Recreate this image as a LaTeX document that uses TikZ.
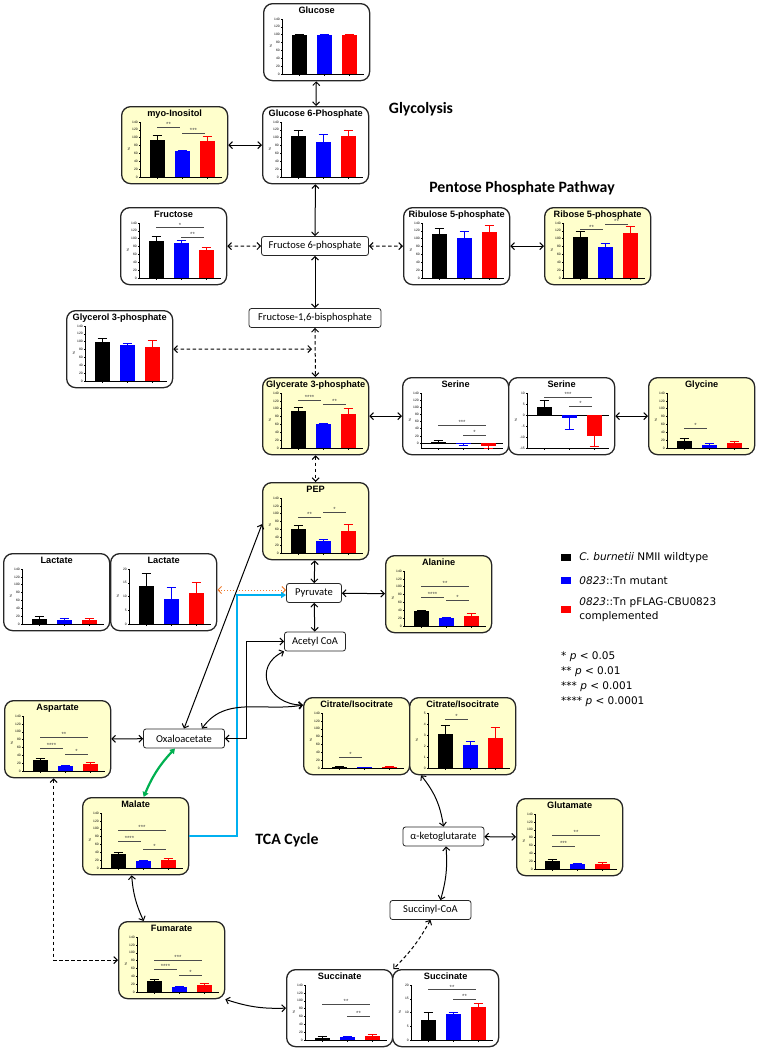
\documentclass[tikz,border=0pt]{standalone}
\usepackage{fontspec}
\setmainfont{Carlito}
\newfontfamily\chartfont{Liberation Sans}
\newfontfamily\keyfont{DejaVu Sans}
\usetikzlibrary{arrows.meta, positioning}

\definecolor{bar1}{RGB}{0,0,0}
\definecolor{bar2}{RGB}{0,0,255}
\definecolor{bar3}{RGB}{255,0,0}
\definecolor{panelyellow}{RGB}{255,255,204}
\definecolor{tcablue}{RGB}{0,176,240}
\definecolor{tcagreen}{RGB}{0,176,80}
\definecolor{lactorange}{RGB}{237,125,49}

% #1 panel, #2 ymin, #3 ymax, #4 ticks, #5 bars value/error, #6 significance from/to/height/stars
\newcommand{\barchart}[6]{%
  \pgfmathsetmacro\chscale{55/((#3)-(#2))}%
  \pgfmathsetmacro\chtick{2/\chscale}%
  \edef\ticklist{#4}%
  \begin{scope}[shift={(#1.north west)}, shift={(19,-71)}, yscale=\chscale, shift={(0,{-(#2)})}]
    \draw[axis line] (0,#2) -- (0,#3);
    \foreach \t in \ticklist
      \draw[axis line] (0,\t) -- (-1.5,\t) node[tick label] {\t};
    \draw[axis line] (0,#2) -- (82,#2);
    \draw[axis line] (0,0) -- (82,0);
    \node[tick label, anchor=center, rotate=90] at (-11,{((#2)+(#3))/2}) {\%};
    \foreach \v/\e [count=\i] in {#5} {
      \pgfmathsetmacro\bx{17+25*(\i-1)}
      \pgfmathsetmacro\et{(\v<0) ? (\v-\e) : (\v+\e)}
      \fill[color=bar\i] (\bx-7.5,0) rectangle (\bx+7.5,\v);
      \draw[color=bar\i, err line] (\bx,\v) -- (\bx,\et) (\bx-4.5,\et) -- (\bx+4.5,\et);
      \draw[axis line] (\bx,#2) -- (\bx,{(#2)-\chtick});
    }
    \foreach \ia/\ib/\iy/\istar in {#6} {
      \ifx\ia\empty\else
        \draw[sig line] ({17+25*(\ia-1)},\iy) -- ({17+25*(\ib-1)-2},\iy) node[midway, star label] {\istar};
      \fi
    }
  \end{scope}}

\begin{document}
\begin{tikzpicture}[x=1pt, y=1pt, >={Straight Barb[length=3.5pt,width=7pt]},
  panel/.style={draw=black!85, line width=1.3pt, rounded corners=9pt, fill=white, minimum width=106pt, minimum height=77pt, inner sep=0pt, anchor=north west},
  hl/.style={fill=panelyellow},
  panel title/.style={anchor=north, yshift=-2.5pt, inner sep=1pt, font=\chartfont\bfseries\fontsize{9.2}{10}\selectfont},
  metab/.style={draw=black!85, line width=0.8pt, rounded corners=2.5pt, fill=white, minimum height=19pt, inner sep=2pt, font=\fontsize{10.5}{12}\selectfont},
  link/.style={<->, line width=1pt},
  dashlink/.style={link, dash pattern=on 3.5pt off 2.5pt},
  lactlink/.style={<->, line width=1pt, lactorange, dotted},
  bluelink/.style={-{Triangle[length=5pt,width=6pt]}, line width=2.2pt, tcablue},
  greenlink/.style={{Triangle[length=5pt,width=6pt]}-{Triangle[length=5pt,width=6pt]}, line width=2.2pt, tcagreen},
  axis line/.style={line width=0.45pt},
  err line/.style={line width=0.6pt},
  sig line/.style={line width=0.5pt, black!70},
  tick label/.style={left, inner sep=0.6pt, font=\chartfont\fontsize{3.3}{3.8}\selectfont},
  star label/.style={above, inner sep=0.4pt, font=\chartfont\fontsize{6}{6}\selectfont},
  pathway/.style={font=\bfseries\fontsize{15.8}{18}\selectfont},
  key box/.style={minimum width=10pt, minimum height=7pt, inner sep=0pt},
  key text/.style={inner sep=0pt, align=left, font=\keyfont\fontsize{10.5}{13.5}\selectfont}]

  \useasboundingbox (0,0) rectangle (757,-1050);

  % panels
  \node[panel, label={[panel title]north:Glucose}] (glucose) at (263,-3) {};
  \node[panel, label={[panel title]north:Glucose 6-Phosphate}] (g6p) at (262,-106) {};
  \node[panel, hl, label={[panel title]north:myo-Inositol}] (myo) at (121,-106) {};
  \node[panel, label={[panel title]north:Fructose}] (fructose) at (120,-207) {};
  \node[panel, label={[panel title]north:Ribulose 5-phosphate}] (ribulose) at (403,-207) {};
  \node[panel, hl, label={[panel title]north:Ribose 5-phosphate}] (ribose) at (544,-207) {};
  \node[panel, label={[panel title]north:Glycerol 3-phosphate}] (glycerol) at (66,-310) {};
  \node[panel, hl, label={[panel title]north:Glycerate 3-phosphate}] (glycerate) at (262,-377) {};
  \node[panel, label={[panel title]north:Serine}] (sera) at (402,-377) {};
  \node[panel, label={[panel title]north:Serine}] (serz) at (508,-377) {};
  \node[panel, hl, label={[panel title]north:Glycine}] (glycine) at (648,-377) {};
  \node[panel, hl, label={[panel title]north:PEP}] (pep) at (262,-482) {};
  \node[panel, label={[panel title]north:Lactate}] (lacta) at (3,-553) {};
  \node[panel, label={[panel title]north:Lactate}] (lactz) at (110,-553) {};
  \node[panel, hl, label={[panel title]north:Alanine}] (alanine) at (385,-555) {};
  \node[panel, hl, label={[panel title]north:Aspartate}] (aspartate) at (4,-700) {};
  \node[panel, hl, label={[panel title]north:Citrate/Isocitrate}] (cita) at (303,-697) {};
  \node[panel, hl, label={[panel title]north:Citrate/Isocitrate}] (citz) at (409,-697) {};
  \node[panel, hl, label={[panel title]north:Malate}] (malate) at (82,-797) {};
  \node[panel, hl, label={[panel title]north:Glutamate}] (glutamate) at (516,-798) {};
  \node[panel, hl, label={[panel title]north:Fumarate}] (fumarate) at (118,-921) {};
  \node[panel, label={[panel title]north:Succinate}] (succa) at (286,-969) {};
  \node[panel, label={[panel title]north:Succinate}] (succz) at (392,-969) {};

  % metabolites without data
  \node[metab, minimum width=107pt] (f6p) at (315,-246) {Fructose 6-phosphate};
  \node[metab, minimum width=132pt] (f16bp) at (315,-318) {Fructose-1,6-bisphosphate};
  \node[metab, minimum width=55pt] (pyruvate) at (314,-593) {Pyruvate};
  \node[metab, minimum width=61pt] (acetyl) at (315,-641.5) {Acetyl CoA};
  \node[metab, minimum width=81pt] (oxalo) at (184,-738.5) {Oxaloacetate};
  \node[metab, minimum width=81pt] (akg) at (443.5,-836.5) {α-ketoglutarate};
  \node[metab, minimum width=81pt] (succoa) at (430.5,-910) {Succinyl-CoA};

  \node[pathway] (glyco) at (421,-109) {Glycolysis};
  \node[pathway] (ppp) at (522,-188) {Pentose Phosphate Pathway};
  \node[pathway] (tca) at (287,-840) {TCA Cycle};

  % charts
  \def\pct{0,20,40,60,80,100,120,140}
  \barchart{glucose}{0}{140}{\pct}{100/0, 100/0, 100/0}{}
  \barchart{g6p}{0}{140}{\pct}{105.6/13, 90/19, 105.6/13}{}
  \barchart{myo}{0}{140}{\pct}{94/12, 65.5/3.5, 91.6/11}{1/2/126/**, 2/3/111/***}
  \barchart{fructose}{0}{140}{\pct}{93/14, 90/7, 72/7}{1/3/128/*, 2/3/105/**}
  \barchart{ribulose}{0}{140}{\pct}{112/14, 101.5/16.5, 118/17}{}
  \barchart{ribose}{0}{140}{\pct}{104/14, 78.6/10.5, 114/18}{1/2/123/**, 2/3/136/**}
  \barchart{glycerol}{0}{140}{\pct}{100/9, 91/4, 87/16}{}
  \barchart{glycerate}{0}{140}{\pct}{94/9, 60/2, 86/15}{1/2/122/****, 2/3/111/**}
  \barchart{sera}{-14}{140}{\pct}{2/4.5, -1.5/4.5, -9/6}{1/3/50/***, 2/3/23/*}
  \barchart{serz}{-15}{10}{-15,-10,-5,0,5,10}{3.5/3.3, -1.4/5.3, -9.4/4.6}{1/3/8/***, 2/3/4/*}
  \barchart{glycine}{0}{140}{\pct}{18.5/7, 8/5, 14/4}{1/2/50/*}
  \barchart{pep}{0}{140}{\pct}{61/9, 31/3, 57/17}{1/2/91/**, 2/3/105/*}
  \barchart{lacta}{0}{140}{\pct}{13.8/4.7, 9.2/4.1, 11.1/3.9}{}
  \barchart{lactz}{0}{20}{0,5,10,15,20}{13.8/4.7, 9.2/4.1, 11.1/3.9}{}
  \barchart{alanine}{0}{140}{\pct}{38/3, 21/2, 25/7}{1/3/102/**, 1/2/73/****, 2/3/66/*}
  \barchart{aspartate}{0}{140}{\pct}{28/4, 12/2, 17/4}{1/3/85/**, 1/2/59/****, 2/3/43/*}
  \barchart{cita}{0}{140}{\pct}{3/1, 2/0.4, 3/1}{1/2/28/*}
  \barchart{citz}{0}{5}{0,1,2,3,4,5}{3.07/0.78, 2.07/0.35, 2.76/0.92}{1/2/4.45/*}
  \barchart{malate}{0}{140}{\pct}{35/4, 17/1.5, 21/3}{1/3/97/***, 1/2/69/****, 2/3/49/*}
  \barchart{glutamate}{0}{140}{\pct}{21/3.6, 12/1.5, 13/4}{1/3/87/**, 1/2/58/***}
  \barchart{fumarate}{0}{140}{\pct}{28.5/3.5, 12.6/2.4, 17/5}{1/3/80.5/***, 1/2/57/****, 2/3/43/*}
  \barchart{succa}{0}{140}{\pct}{6/4, 8.4/1.6, 11/3}{1/3/91/**, 2/3/60/**}
  \barchart{succz}{0}{20}{0,5,10,15,20}{7.1/2.9, 9.4/0.6, 11.9/1.4}{1/3/18.3/**, 2/3/15/**}

  % connectors
  \coordinate (g3pjoin) at (312,-349);
  \coordinate (bluebend) at (237,-700);
  \coordinate (oxbend) at (246,-700);

  \draw[link] (glucose) -- (g6p);
  \draw[link] (myo) -- (g6p);
  \draw[link] (g6p) -- (f6p);
  \draw[dashlink] (fructose) -- (f6p);
  \draw[dashlink] (f6p) -- (ribulose);
  \draw[link] (ribulose) -- (ribose);
  \draw[link] (f6p) -- (f16bp);
  \draw[dashlink] (f16bp) -- (glycerate);
  \draw[dashlink] (glycerol) -- (g3pjoin);
  \draw[link] (glycerate) -- (sera);
  \draw[link] (serz) -- (glycine);
  \draw[dashlink] (glycerate) -- (pep);
  \draw[link] (pep) -- (pyruvate);
  \draw[link] (pyruvate) -- (alanine);
  \draw[link] (pyruvate) -- (acetyl);
  \draw[lactlink] ([yshift=3pt]pyruvate.west) -- ([yshift=3pt]pyruvate.west -| lactz.east);
  \draw[bluelink] (malate.east) -- (malate.east -| bluebend) |- ([yshift=-2pt]pyruvate.west);
  \draw[link] (acetyl.west) -- (acetyl.west -| oxbend) |- (oxalo.east);
  \draw[link] (oxalo.north) -- ([yshift=-3pt]pep.west);
  \draw[link] ([xshift=18pt]oxalo.north) to[out=55, in=190] ([yshift=-8pt]cita.north west);
  \draw[link] (acetyl.south west) to[out=205, in=180, looseness=1.6] ([yshift=-8pt]cita.north west);
  \draw[link] (aspartate) -- (oxalo);
  \draw[greenlink] ([xshift=-9pt]oxalo.south) to[bend right=10] ([xshift=8pt]malate.north);
  \draw[dashlink] ([xshift=-4pt]aspartate.south) |- (fumarate.west);
  \draw[link] ([xshift=-4pt]malate.south) to[bend right=10] ([xshift=-28pt]fumarate.north);
  \draw[link] (fumarate.south east) to[bend right=10] (succa.west);
  \draw[link] ([xshift=12pt]citz.south west) to[bend left=15] (akg.north);
  \draw[link] (akg) -- (glutamate);
  \draw[link] ([xshift=2.5pt]akg.south) to[bend left=10] ([xshift=10pt]succoa.north);
  \draw[dashlink] (succoa.south) to[bend left=8] (succa.north east);

  % legend
  \node[key box, fill=bar1] (key1) at (566,-557.5) {};
  \node[key box, fill=bar2] (key2) at (566,-580.5) {};
  \node[key box, fill=bar3] (key3) at (566,-609.5) {};
  \node[key text, right=8pt of key1] (keytext1) {\textit{C. burnetii} NMII wildtype};
  \node[key text, right=8pt of key2] (keytext2) {\textit{0823}::Tn mutant};
  \node[key text, right=8pt of key3] (keytext3) {\textit{0823}::Tn pFLAG-CBU0823\\complemented};
  \node[key text, anchor=north west, font=\keyfont\fontsize{10.5}{15}\selectfont] (pvals) at (561,-651)
    {* \textit{p} < 0.05\\** \textit{p} < 0.01\\*** \textit{p} < 0.001\\**** \textit{p} < 0.0001};
\end{tikzpicture}
\end{document}
